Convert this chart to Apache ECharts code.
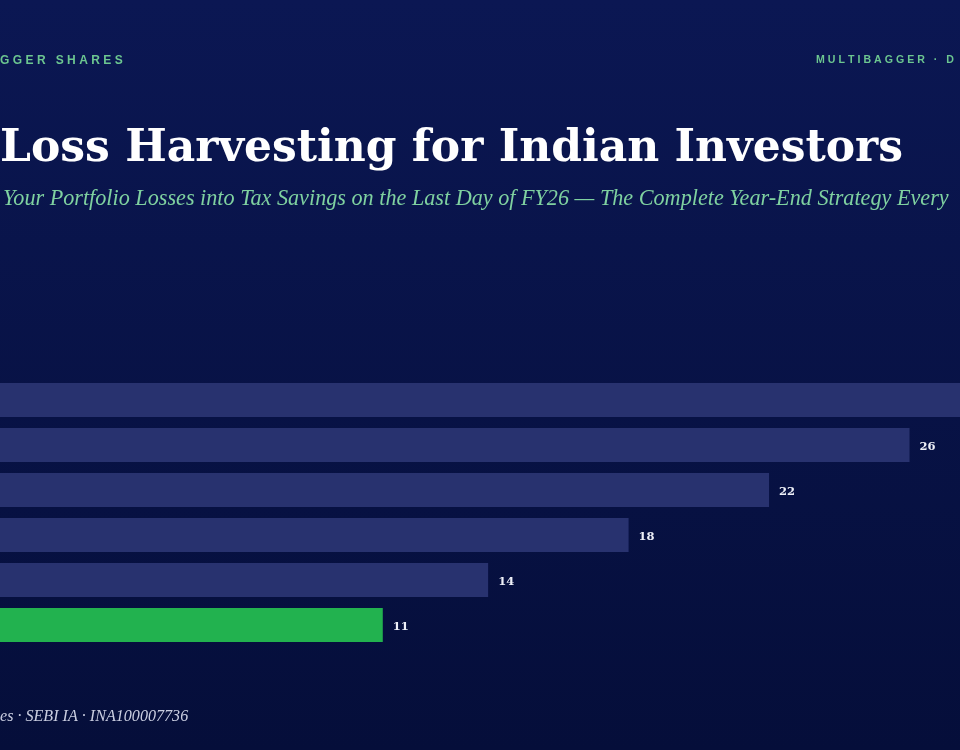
<!DOCTYPE html>
<html>
<head>
<meta charset="utf-8">
<script src="https://cdn.jsdelivr.net/npm/echarts@6/dist/echarts.min.js"></script>
<style>
html,body{margin:0;padding:0;width:960px;height:750px;overflow:hidden;background:#08134a;}
#chart{width:960px;height:750px;}
</style>
</head>
<body>
<div id="chart"></div>
<script>
// Data
const categories = ['A', 'B', 'C', 'D', 'E', 'F'];
const values = [30, 26, 22, 18, 14, 11];
const highlightIndex = 5;

const headerLeft = 'GGER SHARES';
const headerRight = 'MULTIBAGGER · D';
const titleText = 'Loss Harvesting for Indian Investors';
const subtitleText = 'Your Portfolio Losses into Tax Savings on the Last Day of FY26 — The Complete Year-End Strategy Every';
const footerText = 'es · SEBI IA · INA100007736';

function spaced(s, sep) { return s.split('').join(sep); }

const chart = echarts.init(document.getElementById('chart'), null, {renderer: 'canvas'});
chart.setOption({
  backgroundColor: {
    type: 'linear', x: 0, y: 0, x2: 0, y2: 1,
    colorStops: [{offset: 0, color: '#0b1753'}, {offset: 1, color: '#050e3a'}]
  },
  animation: false,
  grid: {left: -3.5, right: -90, top: 377.5, bottom: 102.5, containLabel: false, outerBoundsMode: 'none'},
  xAxis: {type: 'value', min: 0, max: 30, show: false},
  yAxis: {type: 'category', data: categories, inverse: true, show: false},
  series: [{
    type: 'bar',
    barWidth: 34,
    data: values.map((v, i) => ({
      value: v,
      itemStyle: {color: i === highlightIndex ? '#22b24f' : '#28326f'}
    })),
    label: {
      show: true, position: 'right', distance: 10, offset: [0, 2],
      color: '#eef0f8', fontFamily: 'DejaVu Serif', fontWeight: 'bold', fontSize: 11.5
    }
  }],
  graphic: [
    {type: 'text', left: 0, top: 55, style: {text: spaced(headerLeft, '\u2009\u200A'), fill: '#6cc690', font: 'bold 12px "Liberation Sans", Arial'}},
    {type: 'text', left: 816, top: 55, style: {text: spaced(headerRight, '\u2009\u200A'), fill: '#6cc690', font: 'bold 10.6px "Liberation Sans", Arial'}},
    {type: 'text', left: 0, top: 128, style: {text: titleText, fill: '#ffffff', font: 'bold 44px "DejaVu Serif", Georgia, serif'}},
    {type: 'text', left: 3, top: 188, style: {text: subtitleText, fill: '#7fd1a0', font: 'italic 22.2px "Liberation Serif", Georgia, serif'}},
    {type: 'text', left: 0, top: 709, style: {text: footerText, fill: '#c9cde0', font: 'italic 16.1px "Liberation Serif", Georgia, serif'}}
  ]
});
</script>
</body>
</html>
